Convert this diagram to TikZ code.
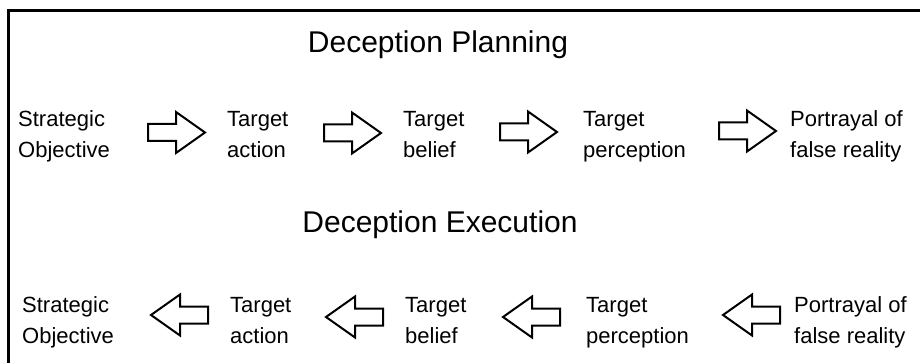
\documentclass[tikz,border=0pt]{standalone}
\usepackage{fontspec}
\setmainfont{Liberation Sans}
\begin{document}
\begin{tikzpicture}[x=1pt,y=-1pt,
  title/.style={font=\fontsize{30}{36}\selectfont, inner sep=0pt, anchor=base},
  label/.style={font=\fontsize{22}{31}\selectfont, align=left, inner sep=0pt, anchor=base west},
  arrowline/.style={draw=black, line width=2pt, line join=miter, fill=white},
  blockarrow/.pic={
    \path[arrowline] (0,-8.5) -- (28,-8.5) -- (28,-20.5) -- (57,0)
      -- (28,20.5) -- (28,8.5) -- (0,8.5) -- cycle;
  }]
\useasboundingbox (0,0) rectangle (920,363);

% frame (only its top and left edges lie inside the picture)
\draw[line width=3pt] (920,10.5) -- (8.5,10.5) -- (8.5,363);

% planning chain (labels anchored at the baseline of their second line)
\node[title] (tplan) at (438,53) {Deception Planning};
\node[label] (p1) at (18,158)  {Strategic\\Objective};
\node[label] (p2) at (227,158) {Target\\action};
\node[label] (p3) at (403,158) {Target\\belief};
\node[label] (p4) at (583,158) {Target\\perception};
\node[label] (p5) at (790,158) {Portrayal of\\false reality};
\pic at (148,132.5) {blockarrow};
\pic at (324,133) {blockarrow};
\pic at (500,132) {blockarrow};
\pic at (719,131) {blockarrow};

% execution chain
\node[title] (texec) at (440,233) {Deception Execution};
\node[label] (e1) at (22,343)  {Strategic\\Objective};
\node[label] (e2) at (230,343) {Target\\action};
\node[label] (e3) at (405,343) {Target\\belief};
\node[label] (e4) at (586,343) {Target\\perception};
\node[label] (e5) at (794,343) {Portrayal of\\false reality};
\pic[xscale=-1] at (208,315) {blockarrow};
\pic[xscale=-1] at (383,317) {blockarrow};
\pic[xscale=-1] at (560,317) {blockarrow};
\pic[xscale=-1] at (780,315) {blockarrow};
\end{tikzpicture}
\end{document}
